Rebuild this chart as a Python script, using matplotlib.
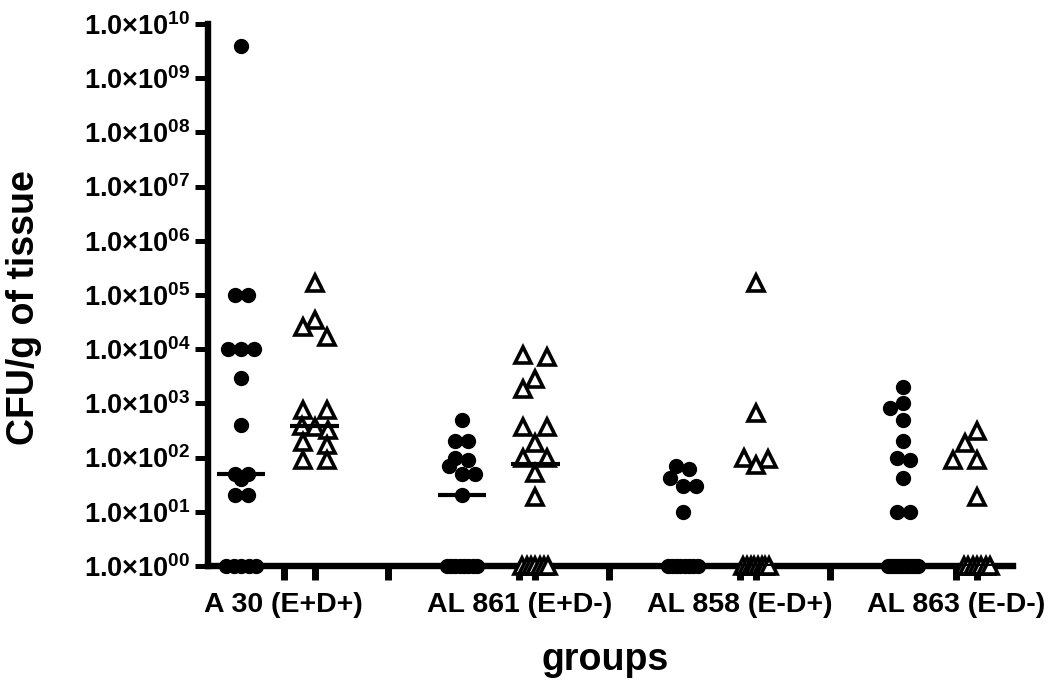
import numpy as np
import matplotlib
matplotlib.use("Agg")
from matplotlib import pyplot as plt
from matplotlib.ticker import FixedLocator, FuncFormatter

plt.rcParams["mathtext.fontset"] = "custom"
plt.rcParams["mathtext.bf"] = "Liberation Sans:bold"
plt.rcParams["mathtext.rm"] = "Liberation Sans:bold"
plt.rcParams["mathtext.it"] = "Liberation Sans:bold"
plt.rcParams["font.family"] = ["Liberation Sans", "DejaVu Sans"]

# CFU/g of tissue, zero counts plotted at 1
a30_circ = [4e9, 1e5, 1e5, 1e4, 1e4, 1e4, 3e3, 400, 50, 50, 40, 20, 20, 1, 1, 1, 1, 1]
a30_tri = [1.7e5, 3.5e4, 2.6e4, 1.7e4, 760, 760, 380, 365, 320, 195, 170, 90, 90]
al861_circ = [490, 200, 200, 100, 90, 70, 50, 50, 20, 1, 1, 1, 1, 1, 1, 1, 1]
al861_tri = [7.8e3, 7.2e3, 2.8e3, 1.85e3, 365, 365, 185, 100, 100, 52, 19, 1, 1, 1, 1, 1, 1, 1]
al858_circ = [70, 62, 42, 30, 30, 10, 1, 1, 1, 1, 1, 1, 1, 1]
al858_tri = [1.7e5, 670, 98, 94, 73, 1, 1, 1, 1, 1, 1, 1, 1]
al863_circ = [2e3, 1e3, 830, 490, 200, 100, 90, 42, 10, 10, 1, 1, 1, 1, 1, 1, 1, 1, 1, 1, 1]
al863_tri = [310, 185, 90, 90, 19, 1, 1, 1, 1, 1, 1, 1]

group_labels = ["A 30 (E+D+)", "AL 861 (E+D-)", "AL 858 (E-D+)", "AL 863 (E-D-)"]
circ_data = [a30_circ, al861_circ, al858_circ, al863_circ]
tri_data = [a30_tri, al861_tri, al858_tri, al863_tri]

W, H, DPI = 1050, 687, 100
fig = plt.figure(figsize=(W / DPI, H / DPI), dpi=DPI)
ax_l, ax_r, ax_t, ax_b = 208, 1013, 24, 566
ax = fig.add_axes([ax_l / W, 1 - ax_b / H, (ax_r - ax_l) / W, (ax_b - ax_t) / H])

xmin, xmax = -0.45, 10.49
ax.set_xlim(xmin, xmax)
ax.set_yscale("log")
ax.set_ylim(1, 1e10)

px_per_col = (ax_r - ax_l) / (xmax - xmin)
px_per_dec = (ax_b - ax_t) / 10.0


def spread(vals, step, halfw, d, shift, tol=4.0):
    # column scatter: rows spread symmetrically, row centre nudged to avoid overlap
    ys = np.log10(vals) * px_per_dec
    order = np.argsort(-ys, kind="stable")
    rows, cur = [], [order[0]]
    for i in order[1:]:
        if abs(ys[cur[-1]] - ys[i]) < tol:
            cur.append(i)
        else:
            rows.append(cur)
            cur = [i]
    rows.append(cur)
    offs = np.zeros(len(vals))
    placed = []
    cands = [0, -shift / 2, shift / 2, -shift, shift]
    for r in rows:
        k = len(r)
        s = min(step, 2 * halfw / (k - 1)) if k > 1 else 0
        base = [(j - (k - 1) / 2) * s for j in range(k)]
        pick, best_c, best_d = None, 0, -1
        for c in cands:
            md = min((np.hypot(b + c - px, ys[i] - py)
                      for b, i in zip(base, r) for px, py in placed), default=np.inf)
            if md >= d:
                pick = c
                break
            if md > best_d:
                best_d, best_c = md, c
        if pick is None:
            pick = best_c if k == 1 else 0
        for b, i in zip(base, r):
            offs[i] = b + pick
            placed.append((b + pick, ys[i]))
    return offs / px_per_col


for g in range(4):
    xc = 3 * g
    xt = 3 * g + 1
    cv = np.array(circ_data[g])
    tv = np.array(tri_data[g])
    ax.plot(xc + spread(cv, 13, 15, 14, 13), cv, "o", ms=10, color="black",
            mec="black", clip_on=False, zorder=3)
    ax.plot(xt + spread(tv, 24, 13, 20, 12), tv, "^", ms=12, mfc="white",
            mec="black", mew=2.6, clip_on=False, zorder=3)
    for x0, v in ((xc, cv), (xt, tv)):
        m = np.median(v)
        ax.plot([x0 - 0.33, x0 + 0.33], [m, m], color="black", lw=3,
                solid_capstyle="butt", zorder=4)

for s in ("top", "right"):
    ax.spines[s].set_visible(False)
for s in ("left", "bottom"):
    ax.spines[s].set_linewidth(4.6)
    ax.spines[s].set_zorder(2)

ax.yaxis.set_major_locator(FixedLocator([10.0 ** e for e in range(11)]))
ax.yaxis.set_minor_locator(FixedLocator([]))
ax.yaxis.set_major_formatter(FuncFormatter(
    lambda v, p: "1.0\u00d710$^{%02d}$" % int(round(np.log10(v)))))
ax.tick_params(axis="y", length=9.5, width=3.6, pad=3, labelsize=19.5)
plt.setp(ax.get_yticklabels(), fontweight="bold")

label_pos = [0.58, 3.78, 6.78, 9.72]
ax.xaxis.set_major_locator(FixedLocator(label_pos))
ax.xaxis.set_minor_locator(FixedLocator([1, 2, 4, 5, 7, 8, 10]))
ax.set_xticklabels(group_labels, fontweight="bold", fontsize=20.5)
ax.tick_params(axis="x", which="both", length=10, width=5)
ax.tick_params(axis="x", which="major", pad=9)

fig.text(24 / W, 1 - 308 / H, "CFU/g of tissue", rotation=90, ha="center",
         va="center", fontsize=27, fontweight="bold")
fig.text(605 / W, 1 - 660 / H, "groups", ha="center", va="center",
         fontsize=27, fontweight="bold")

fig.savefig("out.png", dpi=DPI)
